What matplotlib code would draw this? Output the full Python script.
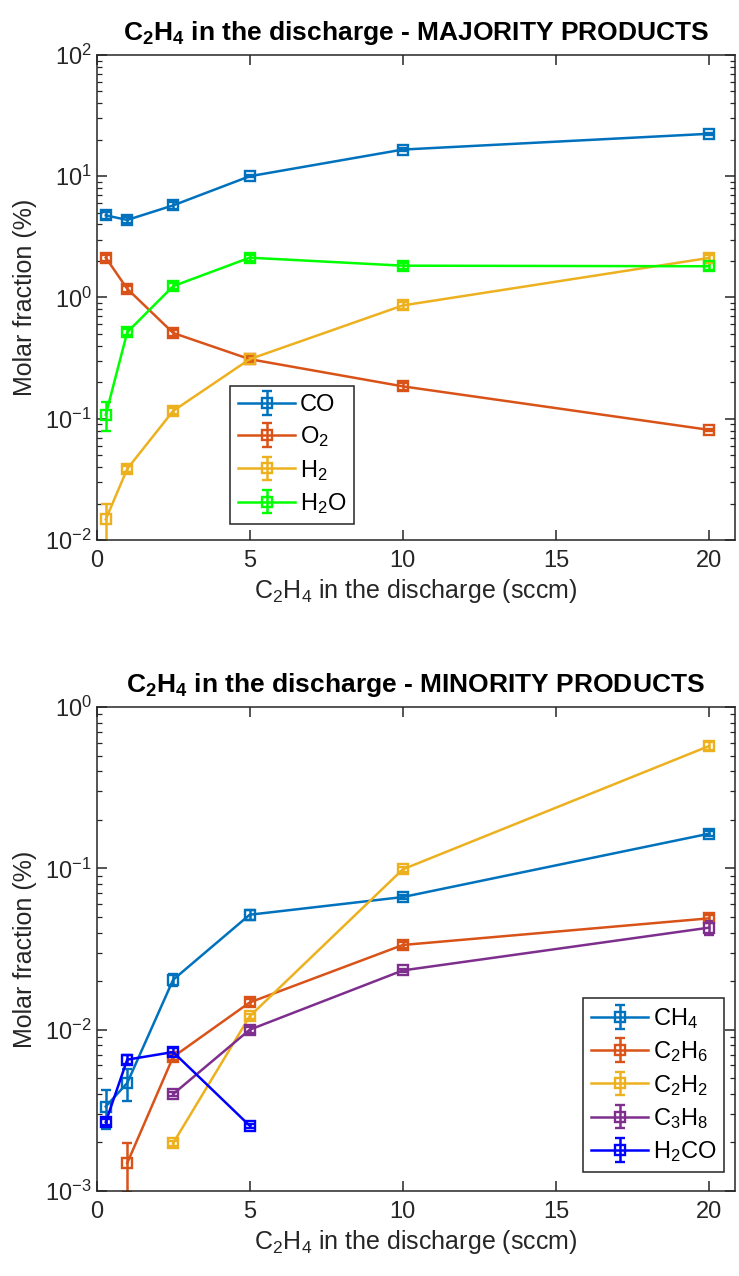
import matplotlib
matplotlib.use("Agg")
import matplotlib.pyplot as plt
from matplotlib.ticker import LogLocator, NullFormatter

plt.rcParams.update({
    "font.family": ["Liberation Sans", "DejaVu Sans"],
    "mathtext.fontset": "custom",
    "mathtext.rm": "Liberation Sans",
    "mathtext.it": "Liberation Sans:italic",
    "mathtext.bf": "Liberation Sans:bold",
    "mathtext.default": "regular",
    "axes.linewidth": 1.1,
    "axes.edgecolor": "#262626",
    "xtick.color": "#262626",
    "ytick.color": "#262626",
})

BLUE, ORANGE, YELLOW, PURPLE = "#0072BD", "#D95319", "#EDB120", "#7E2F8E"
GREEN, PURE_BLUE = "#00FF00", "#0000FF"

# majority products (%), x = sccm of C2H4
flow = [0.3, 1, 2.5, 5, 10, 20]
co      = [4.76, 4.36, 5.75, 10.0, 16.6, 22.4]
co_err  = [0.30, 0.27, 0.36, 0.20, 0.35, 0.45]
o2      = [2.13, 1.18, 0.51, 0.31, 0.185, 0.081]
o2_err  = [0.13, 0.07, 0.03, 0.018, 0.011, 0.002]
h2      = [0.0148, 0.0386, 0.116, 0.31, 0.86, 2.12]
h2_err  = [0.0052, 0.0024, 0.007, 0.006, 0.05, 0.13]
h2o     = [0.108, 0.517, 1.24, 2.13, 1.83, 1.81]
h2o_err = [0.029, 0.031, 0.075, 0.13, 0.11, 0.11]

# minority products (%)
ch4      = [0.00334, 0.00467, 0.0204, 0.0516, 0.0664, 0.164]
ch4_err  = [0.0009, 0.00105, 0.0018, 0.0035, 0.0015, 0.006]
c2h6_x   = [1, 2.5, 5, 10, 20]
c2h6     = [0.00149, 0.00678, 0.01475, 0.0335, 0.049]
c2h6_err = [0.0005, 0.0003, 0.0007, 0.0015, 0.0025]
c2h2_x   = [2.5, 5, 10, 20]
c2h2     = [0.00198, 0.0121, 0.0986, 0.573]
c2h2_err = [0.00007, 0.0004, 0.003, 0.035]
c3h8_x   = [2.5, 5, 10, 20]
c3h8     = [0.00399, 0.0100, 0.0233, 0.0429]
c3h8_err = [0.00012, 0.0004, 0.0006, 0.0045]
h2co_x   = [0.3, 1, 2.5, 5]
h2co     = [0.00268, 0.00652, 0.00727, 0.00254]
h2co_err = [0.00012, 0.0004, 0.0004, 0.00008]

fig = plt.figure(figsize=(7.39, 12.76), dpi=100)
ax1 = fig.add_axes([0.1307, 0.5768, 0.8639, 0.3801])
ax2 = fig.add_axes([0.1307, 0.0666, 0.8639, 0.3793])

def series(ax, x, y, e, c, lab):
    ax.errorbar(x, y, yerr=e, color=c, label=lab, marker="s", ms=7.5, mfc="none",
                mew=1.7, lw=1.8, elinewidth=1.8, capsize=3.8, capthick=1.8)

series(ax1, flow, co, co_err, BLUE, "CO")
series(ax1, flow, o2, o2_err, ORANGE, "O$_2$")
series(ax1, flow, h2, h2_err, YELLOW, "H$_2$")
series(ax1, flow, h2o, h2o_err, GREEN, "H$_2$O")

series(ax2, flow, ch4, ch4_err, BLUE, "CH$_4$")
series(ax2, c2h6_x, c2h6, c2h6_err, ORANGE, "C$_2$H$_6$")
series(ax2, c2h2_x, c2h2, c2h2_err, YELLOW, "C$_2$H$_2$")
series(ax2, c3h8_x, c3h8, c3h8_err, PURPLE, "C$_3$H$_8$")
series(ax2, h2co_x, h2co, h2co_err, PURE_BLUE, "H$_2$CO")

for ax, lo, hi in [(ax1, 1e-2, 1e2), (ax2, 1e-3, 1e0)]:
    ax.set_yscale("log")
    ax.set_ylim(lo, hi)
    ax.set_xlim(0, 20.85)
    ax.set_xticks([0, 5, 10, 15, 20])
    ax.yaxis.set_major_locator(LogLocator(base=10, numticks=10))
    ax.yaxis.set_minor_locator(LogLocator(base=10, subs=range(2, 10), numticks=20))
    ax.yaxis.set_minor_formatter(NullFormatter())
    ax.tick_params(which="both", direction="in", top=True, right=True, labelsize=17)
    ax.tick_params(which="major", length=7, width=1.1)
    ax.tick_params(which="minor", length=3.5, width=0.9)
    ax.tick_params(axis="x", pad=7)
    ax.set_ylabel("Molar fraction (%)", fontsize=18, color="#262626", labelpad=6)
    ax.set_xlabel("C$_2$H$_4$ in the discharge (sccm)", fontsize=18, color="#262626", labelpad=4)

ax1.set_title(r"$\mathbf{C_2H_4}$ in the discharge - MAJORITY PRODUCTS",
              fontsize=19, fontweight="bold", pad=11)
ax2.set_title(r"$\mathbf{C_2H_4}$ in the discharge - MINORITY PRODUCTS",
              fontsize=19, fontweight="bold", pad=11)

leg_kw = dict(fontsize=17, handlelength=2.4, fancybox=False, framealpha=1,
              edgecolor="#262626", borderaxespad=0, labelspacing=0.35,
              handletextpad=0.2, borderpad=0.35)
l1 = ax1.legend(loc="lower left", bbox_to_anchor=(0.209, 0.033), **leg_kw)
l2 = ax2.legend(loc="lower left", bbox_to_anchor=(0.762, 0.039), **leg_kw)
for l in (l1, l2):
    l.get_frame().set_linewidth(1.1)

fig.savefig("out.png", dpi=100)
